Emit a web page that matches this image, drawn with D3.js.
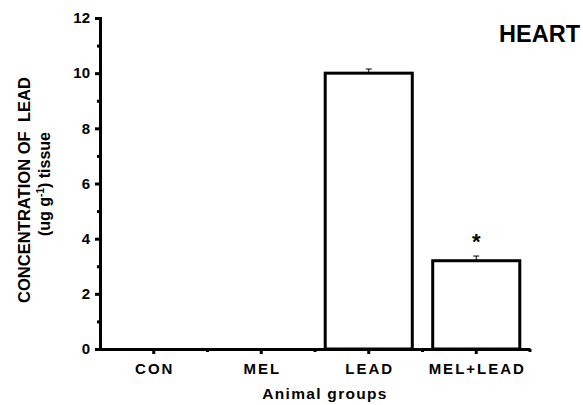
<!DOCTYPE html>
<html><head><meta charset="utf-8">
<script src="https://cdn.jsdelivr.net/npm/d3@7"></script>
<style>body{margin:0;background:#fff}svg{display:block;font-family:"Liberation Sans",Arial,sans-serif}</style>
</head><body>
<svg id="c" width="583" height="405"></svg>
<script>
const categories = ["CON", "MEL", "LEAD", "MEL+LEAD"];
const values = [0, 0, 10.0, 3.2];
const errors = [0, 0, 0.15, 0.17];
const significant = [false, false, false, true];
const yTicks = [0, 2, 4, 6, 8, 10, 12];
const yMinorTicks = [1, 3, 5, 7, 9, 11];

const FF = "Liberation Sans, Arial, sans-serif";
const svg = d3.select("#c");
const x0 = 100, x1 = 530, yTop = 18, yBot = 349;
const x = d3.scaleBand().domain(categories).range([x0, x1]).paddingInner(0.19).paddingOuter(0.095);
const y = d3.scaleLinear().domain([0, 12]).range([yBot, yTop]);
const xc = d3.scaleBand().domain(categories).range([x0, x1]);

// bars
const g = svg.append("g");
categories.forEach((c, i) => {
  if (values[i] <= 0) return;
  g.append("rect").attr("x", x(c)).attr("y", y(values[i]))
    .attr("width", x.bandwidth()).attr("height", y(0) - y(values[i]))
    .attr("fill", "#fff").attr("stroke", "#000").attr("stroke-width", 3);
  const cx = x(c) + x.bandwidth() / 2;
  g.append("line").attr("x1", cx).attr("x2", cx).attr("y1", y(values[i])).attr("y2", y(values[i] + errors[i]))
    .attr("stroke", "#000").attr("stroke-width", 1);
  g.append("line").attr("x1", cx - 3).attr("x2", cx + 3).attr("y1", y(values[i] + errors[i])).attr("y2", y(values[i] + errors[i]))
    .attr("stroke", "#000").attr("stroke-width", 1);
  if (significant[i]) {
    g.append("text").attr("x", cx).attr("y", y(values[i] + errors[i]) - 7)
      .attr("text-anchor", "middle").attr("font-size", 22).attr("font-weight", "bold").text("*");
  }
});

// y axis
const yAxis = svg.append("g").attr("transform", `translate(${x0},0)`)
  .call(d3.axisLeft(y).tickValues(yTicks).tickSize(5).tickPadding(5).tickFormat(d3.format("d")));
svg.append("g").attr("transform", `translate(${x0},0)`)
  .call(d3.axisLeft(y).tickValues(yMinorTicks).tickSize(3).tickFormat(""))
  .call(s => s.select(".domain").remove());
// x axis
const xAxis = svg.append("g").attr("transform", `translate(0,${yBot})`)
  .call(d3.axisBottom(xc).tickSize(5).tickPadding(9).tickSizeOuter(0));
const minorX = categories.slice(1).map(c => xc(c));
svg.append("g").attr("transform", `translate(0,${yBot})`)
  .selectAll("line").data(minorX.concat([x1])).join("line")
  .attr("x1", d => d).attr("x2", d => d).attr("y1", 0).attr("y2", 3)
  .attr("stroke", "#000").attr("stroke-width", 3);

svg.selectAll(".domain").attr("stroke", "#000").attr("stroke-width", 3);
svg.selectAll(".tick line").attr("stroke", "#000").attr("stroke-width", 3);
yAxis.attr("font-size", 15).attr("font-family", FF);
yAxis.selectAll("text").attr("font-size", 15).attr("font-weight", "bold").attr("font-family", FF).attr("fill", "#000");
xAxis.attr("font-size", 15).attr("font-family", FF);
xAxis.selectAll("text").attr("font-size", 15).attr("font-weight", "bold").attr("letter-spacing", 2)
  .attr("dx", 1).attr("font-family", FF).attr("fill", "#000");

// axis titles
svg.append("text").attr("x", 325).attr("y", 399).attr("text-anchor", "middle")
  .attr("font-size", 15.5).attr("font-weight", "bold").attr("letter-spacing", 1.3).text("Animal groups");
svg.append("text").attr("transform", "translate(30,190) rotate(-90)")
  .attr("text-anchor", "middle").attr("font-size", 16).attr("font-weight", "bold")
  .attr("textLength", 226).attr("lengthAdjust", "spacingAndGlyphs")
  .attr("xml:space", "preserve").text("CONCENTRATION OF  LEAD");
const yt2 = svg.append("text").attr("transform", "translate(50,184) rotate(-90)")
  .attr("text-anchor", "middle").attr("font-size", 16).attr("font-weight", "bold");
yt2.append("tspan").text("(ug g");
yt2.append("tspan").attr("dy", -6).attr("font-size", 10).text("-1");
yt2.append("tspan").attr("dy", 6).text(") tissue");

svg.append("text").attr("x", 580).attr("y", 42).attr("text-anchor", "end")
  .attr("font-size", 23.5).attr("font-weight", "bold").text("HEART");
</script>
</body></html>
